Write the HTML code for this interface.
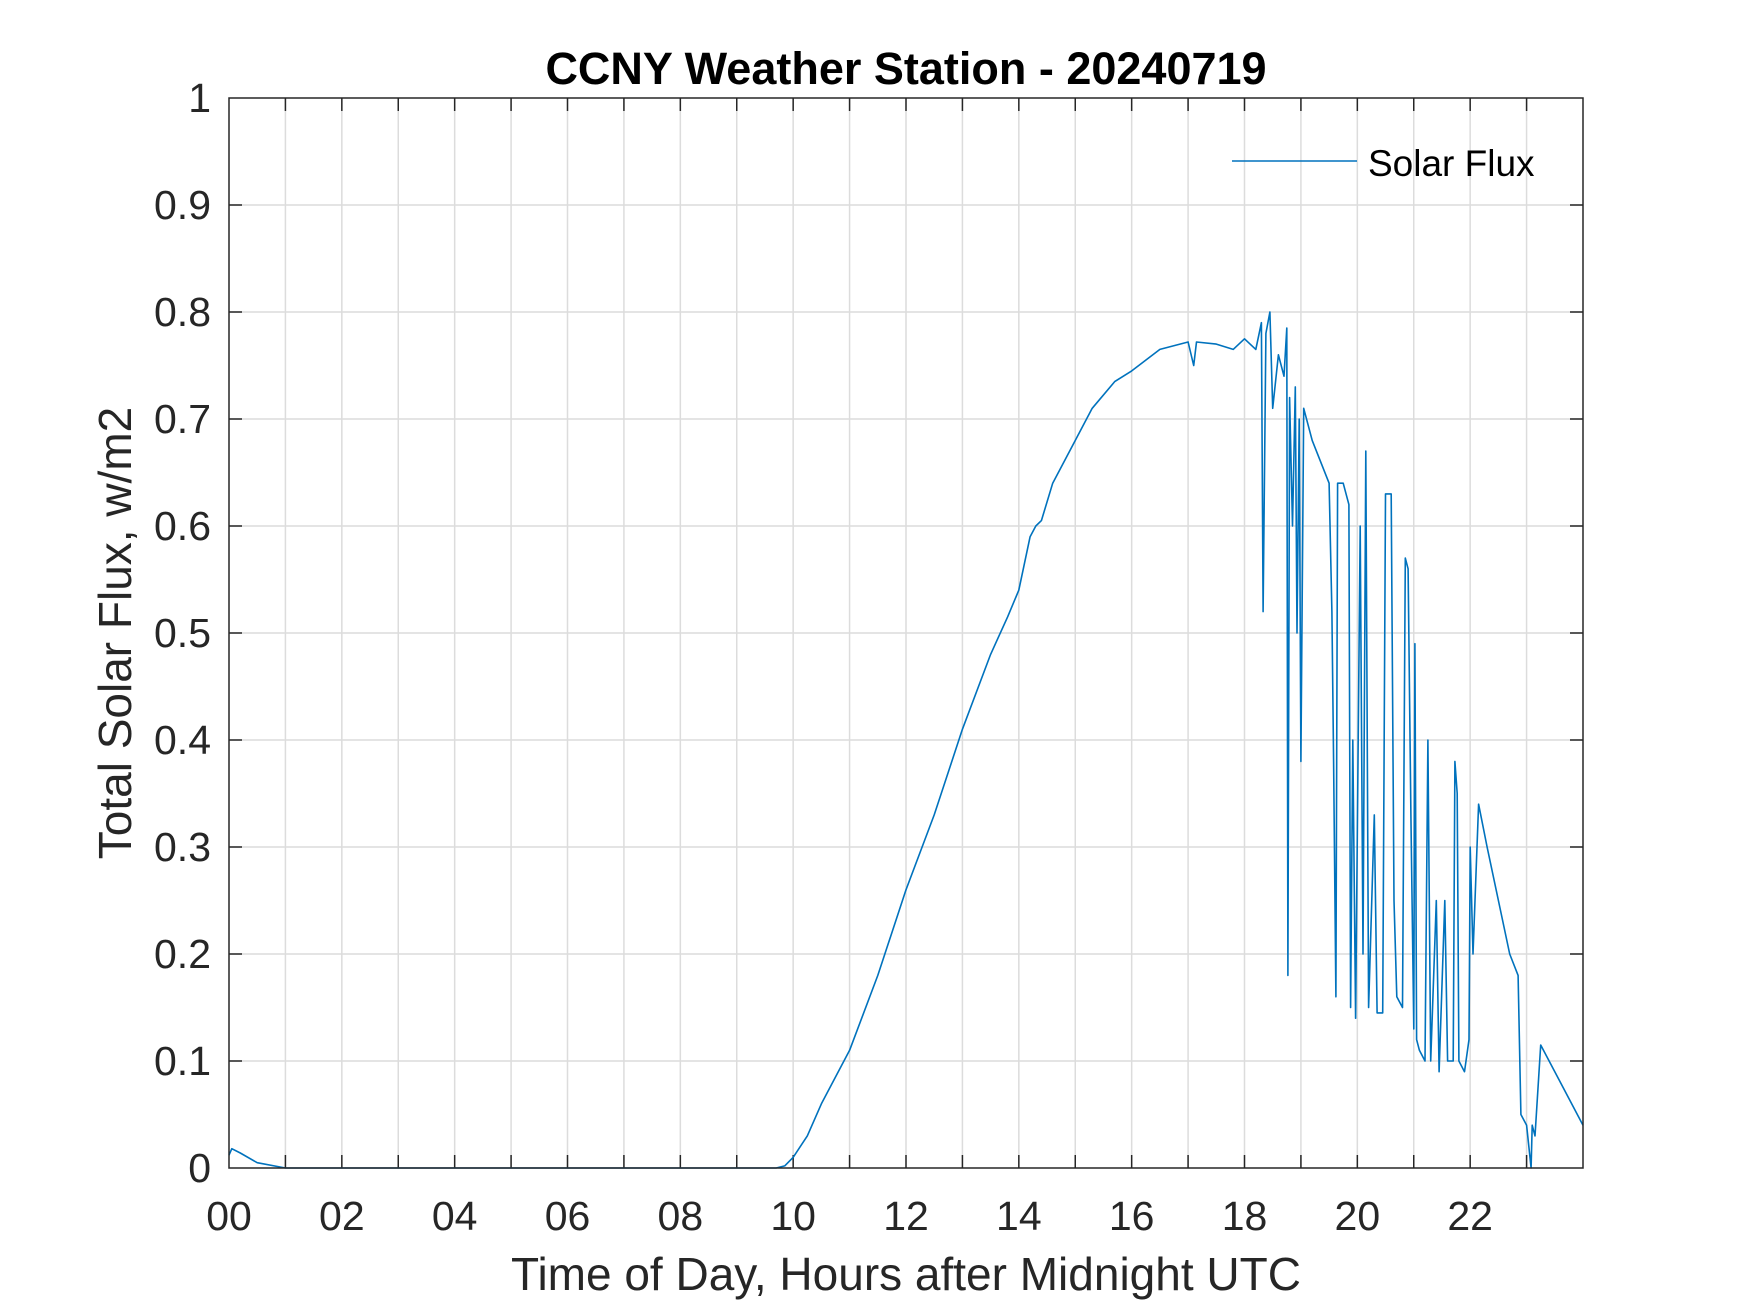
<!DOCTYPE html>
<html><head><meta charset="utf-8"><style>
html,body{margin:0;padding:0;background:#fff;}
svg{display:block;font-family:"Liberation Sans",sans-serif;}
</style></head><body>
<svg id="chart" width="1750" height="1313" viewBox="0 0 1750 1313" xmlns="http://www.w3.org/2000/svg">
<rect width="1750" height="1313" fill="#fff"/>
<g id="grid"></g>
<g id="ticks"></g>
<path id="series" fill="none" stroke="#0072BD" stroke-width="1.6" stroke-linejoin="round"/>
<rect x="229" y="98" width="1354" height="1070" fill="none" stroke="#262626" stroke-width="1.5"/>
<text x="906" y="84" text-anchor="middle" font-size="45" font-weight="bold" fill="#000">CCNY Weather Station - 20240719</text>
<text x="906" y="1290" text-anchor="middle" font-size="46" fill="#262626">Time of Day, Hours after Midnight UTC</text>
<text transform="translate(131,633) rotate(-90)" text-anchor="middle" font-size="46" fill="#262626">Total Solar Flux, w/m2</text>
<g>
<line x1="1232" y1="161" x2="1357" y2="161" stroke="#0072BD" stroke-width="1.6"/>
<text x="1368" y="176" font-size="37" fill="#000">Solar Flux</text>
</g>
</svg>
<script>
const xTickLabels=["00","02","04","06","08","10","12","14","16","18","20","22"];
const yTickLabels=["0","0.1","0.2","0.3","0.4","0.5","0.6","0.7","0.8","0.9","1"];
const hours=[0,0.05,0.2,0.5,1,9.7,9.85,10,10.25,10.5,11,11.5,12,12.5,13,13.5,13.8,14,14.2,14.3,14.4,14.6,15,15.3,15.7,16,16.5,17,17.1,17.15,17.5,17.8,18,18.2,18.3,18.33,18.38,18.45,18.5,18.6,18.7,18.75,18.77,18.8,18.85,18.9,18.93,18.97,19.0,19.05,19.2,19.5,19.55,19.58,19.62,19.65,19.75,19.85,19.88,19.92,19.97,20.05,20.1,20.15,20.2,20.3,20.35,20.45,20.5,20.6,20.65,20.7,20.8,20.85,20.9,20.95,21.0,21.02,21.05,21.1,21.2,21.25,21.3,21.4,21.45,21.55,21.6,21.7,21.73,21.77,21.8,21.9,21.98,22.0,22.05,22.15,22.3,22.5,22.7,22.85,22.9,23.0,23.08,23.1,23.15,23.25,23.5,23.75,24];
const flux=[0.012,0.018,0.014,0.005,0,0,0.002,0.01,0.03,0.06,0.11,0.18,0.26,0.33,0.41,0.48,0.515,0.54,0.59,0.6,0.605,0.64,0.68,0.71,0.735,0.745,0.765,0.772,0.75,0.772,0.77,0.765,0.775,0.765,0.79,0.52,0.78,0.8,0.71,0.76,0.74,0.785,0.18,0.72,0.6,0.73,0.5,0.7,0.38,0.71,0.68,0.64,0.52,0.38,0.16,0.64,0.64,0.62,0.15,0.4,0.14,0.6,0.2,0.67,0.15,0.33,0.145,0.145,0.63,0.63,0.25,0.16,0.15,0.57,0.56,0.33,0.13,0.49,0.12,0.11,0.1,0.4,0.1,0.25,0.09,0.25,0.1,0.1,0.38,0.35,0.1,0.09,0.12,0.3,0.2,0.34,0.3,0.25,0.2,0.18,0.05,0.04,0.0,0.04,0.03,0.115,0.09,0.065,0.04];
const X0=229,X1=1583,Y0=1168,Y1=98;
function xs(h){return X0+(X1-X0)*h/24;}
function ys(v){return Y0-(Y0-Y1)*v;}
const NS="http://www.w3.org/2000/svg";
const grid=document.getElementById('grid'),ticks=document.getElementById('ticks'),svg=document.getElementById('chart');
function mk(p,tag,a){const e=document.createElementNS(NS,tag);for(const k in a)e.setAttribute(k,a[k]);p.appendChild(e);return e;}
for(let h=1;h<24;h++){
 const x=xs(h);
 const g=mk(grid,'line',{x1:x,y1:Y1,x2:x,y2:Y0,stroke:'#dcdcdc','stroke-width':1.5});
 
 
 const t1=mk(ticks,'line',{x1:x,y1:Y0,x2:x,y2:Y0-13,stroke:'#262626','stroke-width':1.5});
 
 
 const t2=mk(ticks,'line',{x1:x,y1:Y1,x2:x,y2:Y1+13,stroke:'#262626','stroke-width':1.5});
 
 
}
xTickLabels.forEach((lab,i)=>{
 const t=mk(svg,'text',{x:xs(i*2),y:1230,'text-anchor':'middle','font-size':41,fill:'#262626'});
 t.textContent=lab;
 
 
});
yTickLabels.forEach((lab,i)=>{
 const v=i/10,y=ys(v);
 if(i>0&&i<10){
  const g=mk(grid,'line',{x1:X0,y1:y,x2:X1,y2:y,stroke:'#dcdcdc','stroke-width':1.5});
  
  
  const t1=mk(ticks,'line',{x1:X0,y1:y,x2:X0+13,y2:y,stroke:'#262626','stroke-width':1.5});
  
  
  const t2=mk(ticks,'line',{x1:X1,y1:y,x2:X1-13,y2:y,stroke:'#262626','stroke-width':1.5});
  
  
 }
 const t=mk(svg,'text',{x:211,y:y+14,'text-anchor':'end','font-size':41,fill:'#262626'});
 t.textContent=lab;
 
 
});
let d='';
hours.forEach((h,i)=>{d+=(i?'L':'M')+xs(h).toFixed(1)+','+ys(flux[i]).toFixed(1);});
document.getElementById('series').setAttribute('d',d);
</script>
</body></html>
